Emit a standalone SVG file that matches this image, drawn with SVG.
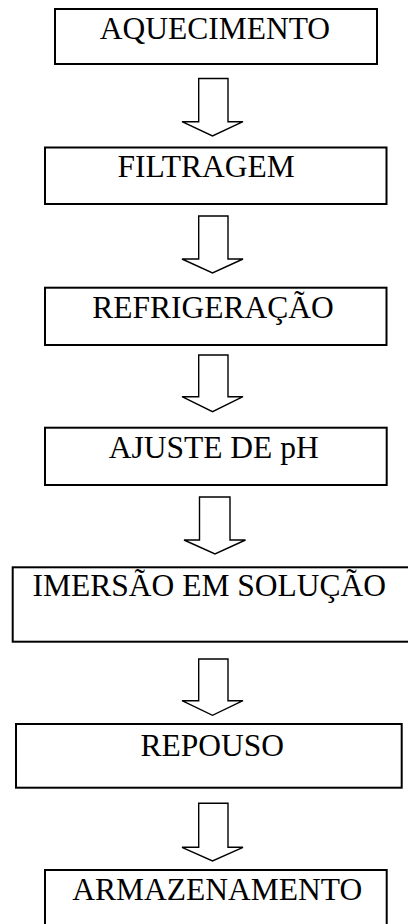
<svg xmlns="http://www.w3.org/2000/svg" width="408" height="924" viewBox="0 0 408 924">
<style>
.box{fill:#fff;stroke:#000;stroke-width:2}
.lbl{font-family:"Liberation Serif","Times New Roman",serif;font-size:31.5px;fill:#000}
.arr{fill:#fff;stroke:#000;stroke-width:1.4;stroke-linejoin:miter}
</style>
<rect width="408" height="924" fill="#fff"/>
<g id="connectors">
<path class="arr" d="M198.7,78.5 H228 V121.7 H243 L212.5,136 L182,121.7 H198.7 Z"/>
<path class="arr" d="M198.7,216 H228 V259 H243 L212.5,273 L182,259 H198.7 Z"/>
<path class="arr" d="M198.7,355 H228 V396.7 H243 L212.5,411.7 L182,396.7 H198.7 Z"/>
<path class="arr" d="M199.5,497 H230 V540 H245.5 L215,554 L184,540 H199.5 Z"/>
<path class="arr" d="M198.7,659 H228 V700.7 H243 L212.5,715.3 L182,700.7 H198.7 Z"/>
<path class="arr" d="M198.7,803.3 H228 V847.3 H243 L212.5,861 L182,847.3 H198.7 Z"/>
</g>
<g id="aquecimento">
<rect class="box" x="55" y="9" width="322" height="55"/>
<text class="lbl" x="99.7" y="39.3">AQUECIMENTO</text>
</g>
<g id="filtragem">
<rect class="box" x="45" y="147.5" width="341.5" height="56.5"/>
<text class="lbl" x="117.5" y="176.7">FILTRAGEM</text>
</g>
<g id="refrigeracao">
<rect class="box" x="45" y="287.7" width="341.5" height="57.3"/>
<text class="lbl" x="92.2" y="317.7">REFRIGERAÇÃO</text>
</g>
<g id="ajuste-ph">
<rect class="box" x="45" y="427.7" width="341.7" height="57.3"/>
<text class="lbl" x="108.7" y="457.7">AJUSTE DE pH</text>
</g>
<g id="imersao">
<rect class="box" x="12.7" y="567.3" width="400" height="74.4"/>
<text class="lbl" x="32.5" y="595.7">IMERSÃO EM SOLUÇÃO</text>
</g>
<g id="repouso">
<rect class="box" x="16" y="724" width="385.7" height="63.7"/>
<text class="lbl" x="140.5" y="755.7">REPOUSO</text>
</g>
<g id="armazenamento">
<rect class="box" x="45" y="870" width="341.7" height="70"/>
<text class="lbl" x="72.3" y="900.3">ARMAZENAMENTO</text>
</g>
</svg>
